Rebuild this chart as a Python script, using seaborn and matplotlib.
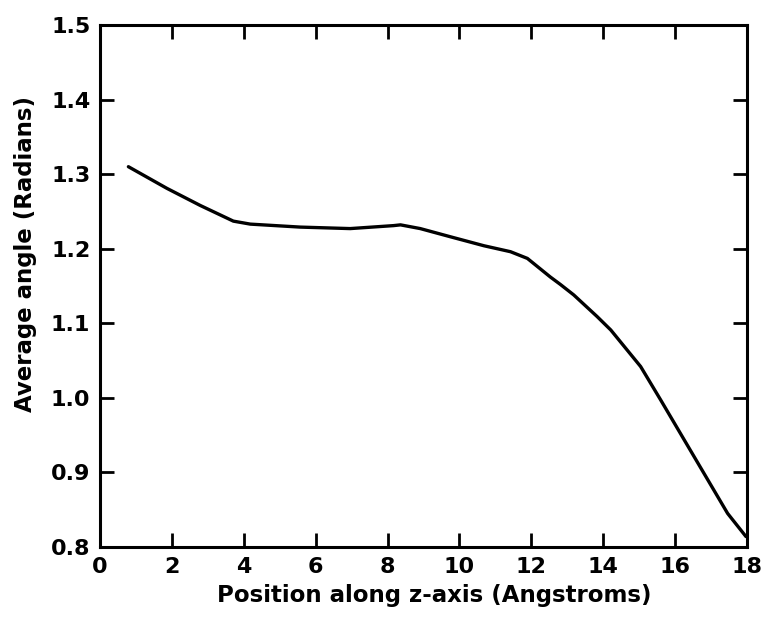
import matplotlib
matplotlib.use("Agg")
import matplotlib.pyplot as plt
import seaborn as sns
import pandas as pd

position = [0.79, 1.86, 2.79, 3.71, 4.18, 5.57, 6.96, 8.17, 8.36, 8.91, 9.75,
            10.68, 11.42, 11.89, 12.53, 12.81, 13.18, 13.83, 14.21, 15.04,
            15.60, 16.53, 17.46, 17.97]
angle = [1.310, 1.281, 1.258, 1.237, 1.233, 1.229, 1.227, 1.231, 1.232, 1.227,
         1.216, 1.204, 1.196, 1.187, 1.162, 1.152, 1.138, 1.109, 1.091, 1.042,
         0.997, 0.921, 0.845, 0.814]
xticks = [0, 2, 4, 6, 8, 10, 12, 14, 16, 18]
yticks = [0.8, 0.9, 1.0, 1.1, 1.2, 1.3, 1.4, 1.5]

sns.set_style("ticks")
plt.rcParams['font.family'] = ['DejaVu Sans']
plt.rcParams['font.weight'] = 'bold'
plt.rcParams['text.color'] = 'black'
plt.rcParams['axes.labelcolor'] = 'black'
plt.rcParams['xtick.color'] = 'black'
plt.rcParams['ytick.color'] = 'black'

df = pd.DataFrame({"pos": position, "angle": angle})
fig = plt.figure(figsize=(7.65, 6.21), dpi=100)
ax = fig.add_axes([0.1307, 0.1192, 0.9765 - 0.1307, 0.9597 - 0.1192])
sns.lineplot(data=df, x="pos", y="angle", ax=ax, color="black", linewidth=2.4)
ax.set_xlim(0, 18)
ax.set_ylim(0.8, 1.5)
ax.set_xticks(xticks)
ax.set_yticks(yticks)
ax.set_yticklabels([f"{v:.1f}" for v in yticks])
ax.tick_params(direction="in", length=10, width=2, top=True, right=True,
               labelsize=16, pad=7, colors="black")
for lab in ax.get_xticklabels() + ax.get_yticklabels():
    lab.set_fontweight("bold")
for s in ax.spines.values():
    s.set_linewidth(2.2)
    s.set_color("black")
ax.set_xlabel("Position along z-axis (Angstroms)", fontsize=16.5, fontweight="bold",
              labelpad=5, color="black")
ax.set_ylabel("Average angle (Radians)", fontsize=16.5, fontweight="bold",
              labelpad=10, color="black")
ax.xaxis.label.set_x(0.516)
ax.yaxis.label.set_y(0.562)
fig.savefig("out.png", dpi=100)
